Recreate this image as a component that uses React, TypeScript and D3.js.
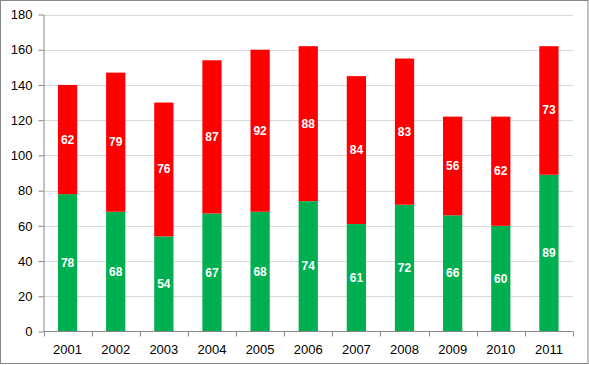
import React, { useEffect, useRef } from 'react';
import * as d3 from 'd3';

const years = ['2001', '2002', '2003', '2004', '2005', '2006', '2007', '2008', '2009', '2010', '2011'];
const greenValues = [78, 68, 54, 67, 68, 74, 61, 72, 66, 60, 89];
const redValues = [62, 79, 76, 87, 92, 88, 84, 83, 56, 62, 73];
const yTicks = [0, 20, 40, 60, 80, 100, 120, 140, 160, 180];

const W = 589;
const H = 365;

const App: React.FC = () => {
  const svgRef = useRef<SVGSVGElement | null>(null);

  useEffect(() => {
    if (!svgRef.current) return;
    const svg = d3.select(svgRef.current);
    svg.selectAll('*').remove();

    const left = 43.5;
    const right = 573;
    const top = 14.5;
    const bottom = 331.5;

    // outer frame
    svg.append('rect')
      .attr('x', 0.5).attr('y', 0.5)
      .attr('width', W - 1.5).attr('height', H - 2)
      .attr('fill', '#fff')
      .attr('stroke', '#868686')
      .attr('stroke-width', 1);

    const x = d3.scaleBand<string>()
      .domain(years)
      .range([left, right])
      .paddingInner(0.6)
      .paddingOuter(0.3);

    const xEdges = d3.scaleBand<string>().domain(years).range([left, right]);

    const y = d3.scaleLinear().domain([0, 180]).range([bottom, top]);

    // grid lines
    svg.append('g')
      .selectAll('line')
      .data(yTicks.filter(t => t > 0))
      .enter()
      .append('line')
      .attr('x1', left).attr('x2', right)
      .attr('y1', d => Math.round(y(d)) + 0.5)
      .attr('y2', d => Math.round(y(d)) + 0.5)
      .attr('stroke', '#d9d9d9')
      .attr('stroke-width', 1);

    const stacked = years.map((yr, i) => ({ yr, g: greenValues[i], r: redValues[i] }));

    // green bars
    svg.append('g')
      .selectAll('rect')
      .data(stacked)
      .enter()
      .append('rect')
      .attr('x', d => x(d.yr) ?? 0)
      .attr('width', x.bandwidth())
      .attr('y', d => y(d.g))
      .attr('height', d => y(0) - y(d.g))
      .attr('fill', '#00b050');

    // red bars
    svg.append('g')
      .selectAll('rect')
      .data(stacked)
      .enter()
      .append('rect')
      .attr('x', d => x(d.yr) ?? 0)
      .attr('width', x.bandwidth())
      .attr('y', d => y(d.g + d.r))
      .attr('height', d => y(d.g) - y(d.g + d.r))
      .attr('fill', '#ff0000');

    // labels
    const labels = svg.append('g')
      .attr('font-family', 'Liberation Sans, Arial, sans-serif')
      .attr('font-size', 12)
      .attr('font-weight', 'bold')
      .attr('fill', '#ffffff')
      .attr('text-anchor', 'middle');

    labels.selectAll('.lg')
      .data(stacked)
      .enter()
      .append('text')
      .attr('class', 'lg')
      .attr('x', d => (x(d.yr) ?? 0) + x.bandwidth() / 2)
      .attr('y', d => y(d.g / 2) + 4)
      .text(d => d.g);

    labels.selectAll('.lr')
      .data(stacked)
      .enter()
      .append('text')
      .attr('class', 'lr')
      .attr('x', d => (x(d.yr) ?? 0) + x.bandwidth() / 2)
      .attr('y', d => y(d.g + d.r / 2) + 4)
      .text(d => d.r);

    // y axis
    const yAxis = svg.append('g')
      .attr('transform', `translate(${left},0)`)
      .call(d3.axisLeft(y).tickValues(yTicks).tickSize(5).tickPadding(6).tickSizeOuter(0));
    yAxis.select('.domain').attr('stroke', '#868686');
    yAxis.selectAll('.tick line').attr('stroke', '#868686');
    yAxis.selectAll('.tick text')
      .attr('fill', '#000')
      .style('font-family', 'Liberation Sans, Arial, sans-serif')
      .style('font-size', '13px');

    // x axis
    const xAxisG = svg.append('g')
      .attr('transform', `translate(0,${bottom})`);
    xAxisG.append('line')
      .attr('x1', left).attr('x2', right)
      .attr('stroke', '#868686');
    xAxisG.selectAll('.xt')
      .data([...years.map(yr => xEdges(yr) ?? 0), right])
      .enter()
      .append('line')
      .attr('class', 'xt')
      .attr('x1', d => Math.round(d) + 0.5)
      .attr('x2', d => Math.round(d) + 0.5)
      .attr('y1', 0).attr('y2', 5)
      .attr('stroke', '#868686');
    xAxisG.selectAll('text')
      .data(years)
      .enter()
      .append('text')
      .attr('x', d => (xEdges(d) ?? 0) + xEdges.bandwidth() / 2)
      .attr('y', 22)
      .attr('text-anchor', 'middle')
      .attr('fill', '#000')
      .style('font-family', 'Liberation Sans, Arial, sans-serif')
      .style('font-size', '13px')
      .text(d => d);
  }, []);

  return (
    <div style={{ position: 'fixed', left: 0, top: 0 }}>
      <svg ref={svgRef} width={W} height={H} style={{ display: 'block' }}></svg>
    </div>
  );
};

export default App;
